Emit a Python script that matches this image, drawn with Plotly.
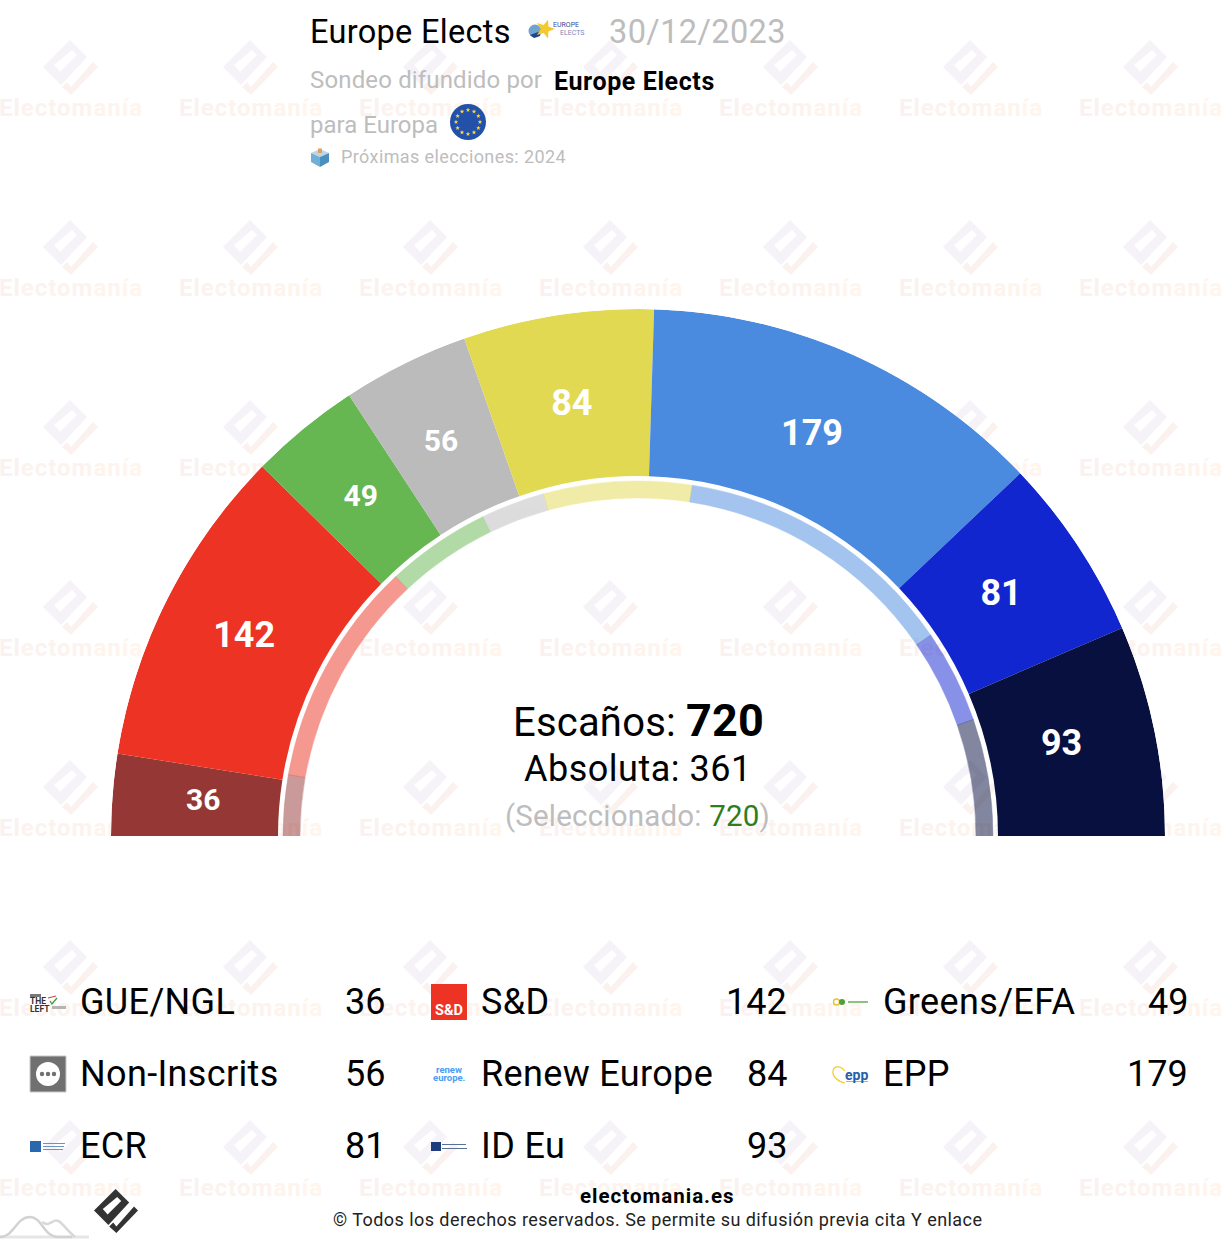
import math
import plotly.graph_objects as go

# ---- data ----
groups = ["GUE/NGL", "S&D", "Greens/EFA", "Non-Inscrits", "Renew Europe", "EPP", "ECR", "ID Eu"]
seats = [36, 142, 49, 56, 84, 179, 81, 93]
reference_seats = [39, 145, 67, 41, 95, 183, 60, 75]  # thin inner ring (estimated, read from the arc)
colors = ["#953735", "#ED3323", "#66B651", "#BBBBBB", "#E2D952", "#4A8ADF", "#1226D0", "#07103F"]
total_seats = 720
majority = 361
selected = 720
pollster = "Europe Elects"
poll_date = "30/12/2023"

# ---- layout constants ----
W, H = 1222, 1254
CX, CY, R_OUT, R_IN, R2_OUT, R2_IN = 638, 836, 527, 360, 355, 338
FONT = "Roboto"
label_r = [436, 441, 437, 439, 435, 436, 435, 433]
label_dtheta = [0.13, 0, 0, 0.4, 0, 0.6, 0.05, 0.37]


def arcs(values):
    total = sum(values)
    th, wd, cum = [], [], 0
    for v in values:
        th.append(180 - (cum + v / 2) / total * 180)
        wd.append(v / total * 180)
        cum += v
    return th, wd


thetas, widths = arcs(seats)
thetas2, widths2 = arcs(reference_seats)

fig = go.Figure()


def wm_text():
    s = "Electomanía"
    c0, c1 = (251, 241, 240), (255, 245, 236)
    out = ""
    for i, ch in enumerate(s):
        t = i / (len(s) - 1)
        c = tuple(round(a + (b - a) * t) for a, b in zip(c0, c1))
        out += f'<span style="color:rgb{c};letter-spacing:1px">{ch}</span>'
    return out


# Watermark text lives on the hidden cartesian axes, below the polar layer
wx, wy = [], []
for j in range(7):
    for i in range(7):
        wx.append(71 + 180 * i)
        wy.append(110 + 180 * j)
fig.add_trace(go.Scatter(x=wx, y=wy, mode="text", text=[wm_text()] * len(wx),
                         textfont=dict(family=FONT, size=24, color="#fbefec", weight="bold"),
                         textposition="middle center", hoverinfo="skip", cliponaxis=False))

# Main ring
fig.add_trace(go.Barpolar(theta=thetas, width=widths, r=[R_OUT - R_IN] * len(seats), base=R_IN,
                          marker=dict(color=colors, line=dict(width=0)), hoverinfo="skip", subplot="polar"))
# Thin ring
fig.add_trace(go.Barpolar(theta=thetas2, width=widths2, r=[R2_OUT - R2_IN] * len(seats), base=R2_IN,
                          marker=dict(color=colors, opacity=0.5, line=dict(width=0.5, color=colors)),
                          hoverinfo="skip", subplot="polar"))
# Value labels
fig.add_trace(go.Scatterpolar(theta=[t + d for t, d in zip(thetas, label_dtheta)], r=label_r, mode="text",
                              text=[str(v) for v in seats],
                              textfont=dict(family=FONT, color="white", weight="bold",
                                            size=[30 if v < 60 else 36 for v in seats]),
                              textposition="middle center", hoverinfo="skip", subplot="polar"))

shapes = []


def logo_path(cx, cy, s):
    def P(pts):
        return "M" + " L".join(f"{cx + x * s:.1f},{cy + y * s:.1f}" for x, y in pts) + " Z"
    diamond = [(-28, -1), (-1, -28), (16, -11), (-10, 17)]
    hole = [(-17, -3), (1, -18), (6, -13), (-11, 4)]
    hook = [(22, -6), (27, -1), (0, 27), (-9, 19), (-4, 14), (0, 19)]
    return P(diamond) + " " + P(hole), P(hook)


def path(d, fill=None, line=None, lw=0, layer="above"):
    shapes.append(dict(type="path", path=d, xref="x", yref="y", fillcolor=fill or "rgba(0,0,0,0)",
                       line=dict(color=line or "rgba(0,0,0,0)", width=lw), layer=layer))


def rect(x0, y0, x1, y1, fill, line=None, lw=0):
    shapes.append(dict(type="rect", x0=x0, y0=y0, x1=x1, y1=y1, xref="x", yref="y", fillcolor=fill,
                       line=dict(color=line or "rgba(0,0,0,0)", width=lw), layer="above"))


def circle(cx, cy, r, fill, line=None, lw=0):
    shapes.append(dict(type="circle", x0=cx - r, y0=cy - r, x1=cx + r, y1=cy + r, xref="x", yref="y",
                       fillcolor=fill, line=dict(color=line or "rgba(0,0,0,0)", width=lw), layer="above"))


def star(cx, cy, R, fill, rot=0.0):
    pts = []
    for k in range(10):
        rr = R if k % 2 == 0 else R * 0.42
        a = math.radians(-90 + rot + k * 36)
        pts.append(f"{cx + rr * math.cos(a):.2f},{cy + rr * math.sin(a):.2f}")
    path("M" + " L".join(pts) + " Z", fill)


for j in range(7):
    for i in range(7):
        a, b = logo_path(71 + 180 * i, 68 + 180 * j, 1)
        path(a, "#f5f2f8", layer="below")
        path(b, "#fbf2f0", layer="below")

# Footer logo and mountains
a, b = logo_path(116.4, 1211.4, 0.8)
path(a, "#333333")
path(b, "#333333")
path("M0,1237 L89,1237", line="#e6e6e6", lw=3)
path("M0,1237 C14,1237 16,1217 30,1217 C42,1217 44,1237 58,1237 L72,1237", line="#d2d2d2", lw=2.5)
path("M42,1222 C48,1226 50,1223 54,1221 C60,1218 64,1228 75,1237", line="#d8d8d8", lw=2.5)

# EU flag
circle(468, 122, 18, "#2350A8")
for k in range(12):
    star(468 + 12 * math.cos(math.radians(k * 30)), 122 + 12 * math.sin(math.radians(k * 30)), 2.4, "#F7D83B")

# Ballot box
path("M311,153 L320,149 L329,153 L320,157 Z", "#bcd5e6")
path("M311,153 L320,157 L320,167 L311,162 Z", "#6fb0d8")
path("M329,153 L320,157 L320,167 L329,162 Z", "#4a8fbd")
rect(318, 148.5, 322, 153, "#e2a15a")

# Europe Elects logo
circle(535, 31, 6.5, "#6fa4cc")
path("M530,35 L541,31 L540,36 L534,38 Z", "#23428a")
star(545, 29, 10, "#F5C92E", rot=18)

# S&D
rect(431, 984, 467, 1020, "#ED3323")
# Non-Inscrits
rect(30, 1056, 66, 1092, "#707070", "#c8c8c8", 1)
circle(48, 1074, 12, "white")
for dx in (-6, 0, 6):
    circle(48 + dx, 1074, 2.2, "#707070")
# ECR
rect(30, 1141, 41, 1152, "#2a68ad")
for k, yy in enumerate((1143.5, 1146.5, 1149.5)):
    rect(43, yy - 0.5, 65 - k, yy + 0.5, "#6f92bd")
# ID
rect(431, 1142, 441, 1151, "#1c3c7c")
rect(442, 1144, 466, 1145, "#5a6f96")
rect(442, 1148, 467, 1149, "#5a6f96")
# Greens
circle(836.5, 1002, 3, "rgba(0,0,0,0)", "#E8C32C", 1.4)
circle(842, 1002, 3, "#4E9F3D")
rect(848, 1001, 868, 1003, "#8fc184")
# EPP
path("M845,1083 C838,1082 832,1076 833,1071 C834,1065 841,1066 845,1071", line="#F5C92E", lw=1.2)
rect(846, 1081, 868, 1082, "#9db4cf")
# The Left
rect(30, 994, 41, 997, "#777777")
path("M50,1001 L52,1004 L57,998", line="#3a9a4a", lw=1.3)
path("M48,998 L56,996", line="#d33", lw=1)
rect(52, 1006, 66, 1009, "#b5b5b5")


def ann(x, y, text, size, color="#000", xanchor="left", ls=0.0):
    if ls:
        text = f'<span style="letter-spacing:{ls}px">{text}</span>'
    return dict(x=x, y=y, xref="x", yref="y", text=text, showarrow=False, xanchor=xanchor, yanchor="middle",
                align=xanchor, font=dict(family=FONT, size=size, color=color), borderpad=0, borderwidth=0)


GREY = "#BDBDBD"
anns = [
    ann(309.5, 32, pollster, 32.5, ls=0.3),
    ann(609, 32, poll_date, 32.5, GREY, ls=0.4),
    ann(309.5, 80, "Sondeo difundido por", 24, GREY, ls=0.15),
    ann(554, 81.5, f"<b>{pollster}</b>", 25, ls=0.6),
    ann(309.5, 125, "para Europa", 24, GREY),
    ann(341, 156, "Próximas elecciones: 2024", 18, GREY, ls=0.4),
    ann(638, 720.5, f'Escaños: <b style="font-size:45px">{total_seats}</b>', 40, xanchor="center", ls=0.2),
    ann(638, 769, f"Absoluta: {majority}", 36, xanchor="center", ls=0.5),
    ann(637, 816, f'(Seleccionado: <span style="color:#2E7D1E">{selected}</span>)', 29.5, GREY, xanchor="center", ls=0.2),
    ann(657, 1196, "<b>electomania.es</b>", 20.5, xanchor="center", ls=1),
    ann(657, 1219.5, "© Todos los derechos reservados. Se permite su difusión previa cita Y enlace", 18, "#222", xanchor="center", ls=0.45),
    # small logo captions
    ann(449, 1010, "<b>S&amp;D</b>", 14.5, "white", xanchor="center"),
    ann(553, 25, "EUROPE", 7, "#3a4a9a"),
    ann(560, 33, "ELECTS", 7, "#7a86c4"),
    ann(449, 1069.5, "<b>renew</b>", 9.5, "#4a9ef5", xanchor="center"),
    ann(449, 1077, "<b>europe.</b>", 9.5, "#4a9ef5", xanchor="center"),
    ann(845, 1074.5, "<b>epp</b>", 14, "#1f5fa8"),
    ann(30, 1001, "<b>THE</b>", 8.5, "#333"),
    ann(30, 1008.5, "<b>LEFT</b>", 8.5, "#333"),
]

# Legend
col_name = [79.5, 480.5, 882.5]
col_val = [385, 787, 1188]
row_y = [1002, 1074, 1146]
for idx, (name, v) in enumerate(zip(groups, seats)):
    c, r = idx % 3, idx // 3
    anns.append(ann(col_name[c], row_y[r], name, 36, ls=0.35))
    anns.append(ann(col_val[c], row_y[r], str(v), 36, xanchor="right"))

fig.update_layout(
    width=W, height=H, margin=dict(l=0, r=0, t=0, b=0), showlegend=False,
    paper_bgcolor="white", plot_bgcolor="rgba(0,0,0,0)",
    xaxis=dict(range=[0, W], visible=False, domain=[0, 1], fixedrange=True),
    yaxis=dict(range=[H, 0], visible=False, domain=[0, 1], fixedrange=True),
    polar=dict(
        domain=dict(x=[(CX - R_OUT) / W, (CX + R_OUT) / W], y=[(H - CY) / H, (H - CY + R_OUT) / H]),
        sector=[0, 180], bgcolor="rgba(0,0,0,0)", hole=0,
        radialaxis=dict(range=[0, R_OUT], visible=False),
        angularaxis=dict(visible=False, direction="counterclockwise", rotation=0),
        barmode="overlay",
    ),
    shapes=shapes, annotations=anns, font=dict(family=FONT),
)
fig.write_html("out.html", config={"displayModeBar": False},
               post_script="document.body.style.margin='0';")
